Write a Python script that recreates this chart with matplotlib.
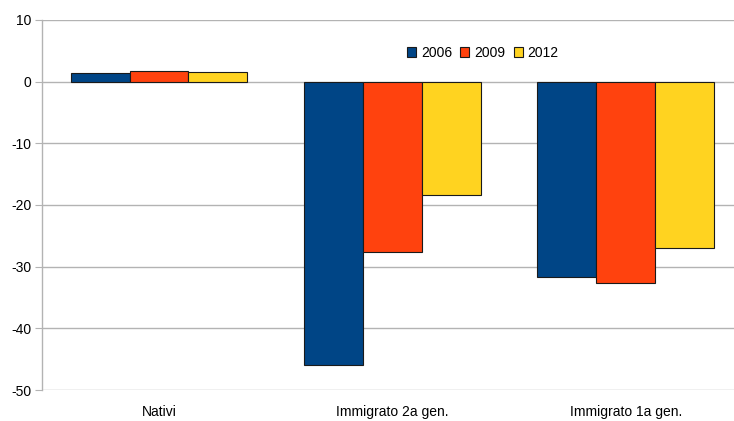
import numpy as np
import matplotlib.pyplot as plt

plt.rcParams["font.family"] = ["Liberation Sans", "DejaVu Sans"]
plt.rcParams["axes.unicode_minus"] = False

categories = ["Nativi", "Immigrato 2a gen.", "Immigrato 1a gen."]
years = ["2006", "2009", "2012"]
v2006 = [1.4, -45.9, -31.6]
v2009 = [1.7, -27.6, -32.7]
v2012 = [1.5, -18.4, -27.0]
colors = ["#004586", "#ff420e", "#ffd320"]

fig = plt.figure(figsize=(7.34, 4.21), dpi=100)
ax = fig.add_axes([42.3 / 734, 1 - 390 / 421, 700 / 734, 370 / 421])

x = np.arange(len(categories))
w = 0.252
for i, (vals, lab, col) in enumerate(zip([v2006, v2009, v2012], years, colors)):
    ax.bar(x + (i - 1) * w, vals, w, color=col, edgecolor="#1a1a1a",
           linewidth=0.8, label=lab, zorder=3)

ax.set_xlim(-0.5, 2.5)
ax.set_ylim(-50, 10)
ax.set_yticks(range(-50, 11, 10))
ax.yaxis.grid(True, color="#b3b3b3", linewidth=1)
ax.set_axisbelow(True)
for s in ["top", "right", "bottom"]:
    ax.spines[s].set_visible(False)
ax.spines["left"].set_color("#b3b3b3")
ax.spines["left"].set_linewidth(1)
ax.tick_params(axis="y", length=5, color="#b3b3b3", labelsize=10, pad=3)
ax.tick_params(axis="x", length=0, labelsize=10, pad=11)
ax.set_xticks(x)
ax.set_xticklabels(categories)

ax.legend(loc="center left", bbox_to_anchor=(407 / 734, 1 - 53 / 421),
          bbox_transform=fig.transFigure, ncol=3, frameon=False,
          fontsize=10, handlelength=0.65, handleheight=0.65,
          handletextpad=0.35, columnspacing=0.6, borderaxespad=0, borderpad=0)

fig.savefig("out.png", dpi=100)
